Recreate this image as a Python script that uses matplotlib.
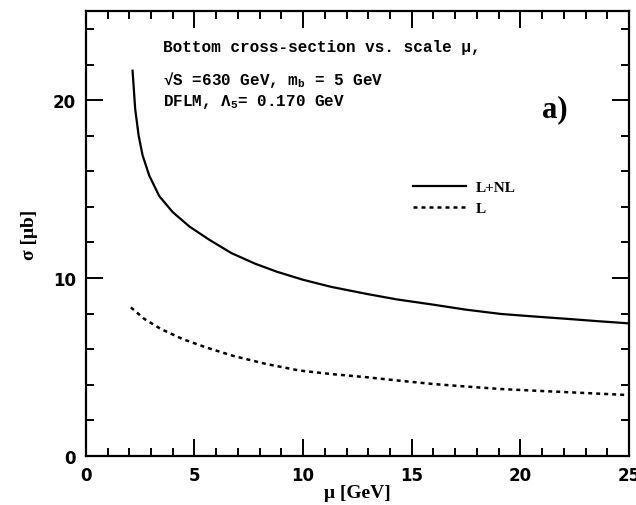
import matplotlib
matplotlib.use("Agg")
import matplotlib.pyplot as plt
from matplotlib.ticker import MultipleLocator

plt.rcParams["mathtext.fontset"] = "custom"
plt.rcParams["mathtext.rm"] = "Liberation Mono"
plt.rcParams["mathtext.bf"] = "Liberation Mono:bold"

# Cross-section vs. renormalisation scale
mu_lnl = [2.15, 2.27, 2.43, 2.61, 2.92, 3.38, 4.0, 4.76, 5.68, 6.7, 7.8, 8.8,
          10.0, 11.3, 12.95, 14.3, 16.0, 17.5, 19.1, 20.6, 22.2, 23.6, 25.0]
sigma_lnl = [21.65, 19.5, 18.0, 16.9, 15.75, 14.6, 13.7, 12.9, 12.15, 11.4, 10.8, 10.35,
             9.9, 9.5, 9.1, 8.8, 8.5, 8.22, 7.98, 7.84, 7.7, 7.57, 7.45]

mu_l = [2.07, 2.69, 3.46, 4.45, 5.53, 6.76, 8.29, 9.83, 11.3, 12.95, 14.5, 16.0,
        17.5, 19.1, 20.6, 22.2, 23.6, 25.0]
sigma_l = [8.35, 7.7, 7.13, 6.57, 6.1, 5.63, 5.17, 4.8, 4.6, 4.42, 4.22, 4.04,
           3.9, 3.76, 3.67, 3.58, 3.5, 3.42]

x_ticks = [0, 5, 10, 15, 20, 25]
y_ticks = [0, 10, 20]

mono = ["Liberation Mono", "DejaVu Sans Mono"]
serif = ["Liberation Serif", "DejaVu Serif"]

fig = plt.figure(figsize=(6.36, 5.06), dpi=100)
ax = fig.add_axes([0.135, 0.097, 0.854, 0.879])

ax.plot(mu_lnl, sigma_lnl, color="black", lw=1.6, solid_joinstyle="round",
        label="L+NL")
ax.plot(mu_l, sigma_l, color="black", lw=1.8, linestyle=(0, (1.6, 1.6)),
        label="L")

ax.set_xlim(0, 25)
ax.set_ylim(0, 25)
ax.set_xticks(x_ticks)
ax.set_yticks(y_ticks)
ax.xaxis.set_minor_locator(MultipleLocator(1))
ax.yaxis.set_minor_locator(MultipleLocator(2))
ax.tick_params(which="both", direction="in", top=True, right=True, width=1.4)
ax.tick_params(which="major", length=12, pad=7, labelsize=12)
ax.tick_params(which="minor", length=6)
for lbl in ax.get_xticklabels() + ax.get_yticklabels():
    lbl.set_fontweight("bold")
for sp in ax.spines.values():
    sp.set_linewidth(1.6)

ax.set_xlabel("μ [GeV]", fontsize=14, fontweight="bold", family=serif, labelpad=0)
ax.set_ylabel("σ [μb]", fontsize=14, fontweight="bold", family=serif, labelpad=11)

ax.text(3.55, 23.0, "Bottom cross-section vs. scale μ,", family=mono,
        fontsize=11.5, fontweight="bold", va="center", ha="left")
ax.text(3.55, 21.2, r"√S =630 GeV, m$_\mathbf{b}$ = 5 GeV", family=mono,
        fontsize=11.5, fontweight="bold", va="center", ha="left")
ax.text(3.55, 19.95, r"DFLM, Λ$_\mathbf{5}$= 0.170 GeV", family=mono,
        fontsize=11.5, fontweight="bold", va="center", ha="left")
ax.text(21.0, 19.5, "a)", family=serif, fontsize=22, fontweight="bold",
        va="center", ha="left")

leg = ax.legend(loc="upper left", bbox_to_anchor=(0.602, 0.62), frameon=False,
                borderaxespad=0, borderpad=0, handlelength=3.5,
                handletextpad=0.6, labelspacing=0.5,
                prop={"family": serif, "weight": "bold", "size": 11})

fig.savefig("out.png", dpi=100)
